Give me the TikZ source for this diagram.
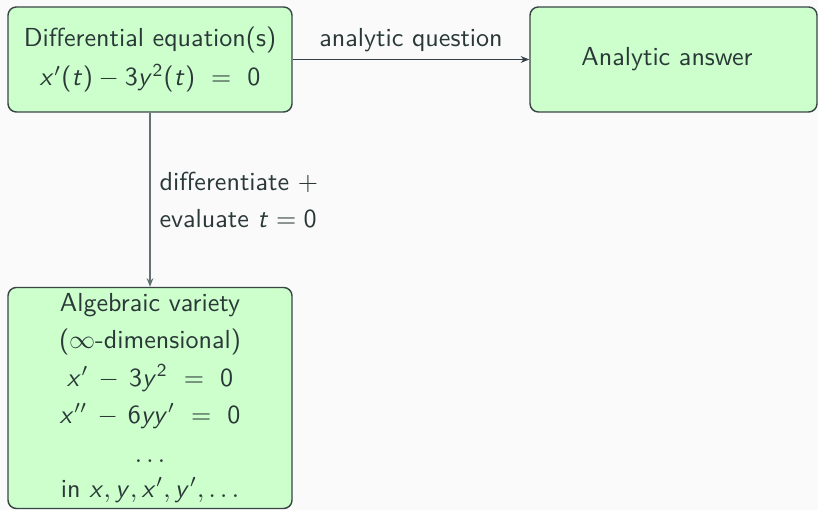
\documentclass[tikz,border=0pt]{standalone}
\usetikzlibrary{arrows.meta}
\DeclareSymbolFont{sfletters}{OT1}{cmss}{m}{sl}
\DeclareSymbolFont{sfupright}{OT1}{cmss}{m}{n}
\DeclareMathSymbol{x}{\mathalpha}{sfletters}{`x}
\DeclareMathSymbol{y}{\mathalpha}{sfletters}{`y}
\DeclareMathSymbol{t}{\mathalpha}{sfletters}{`t}
\DeclareMathSymbol{0}{\mathalpha}{sfupright}{`0}
\DeclareMathSymbol{2}{\mathalpha}{sfupright}{`2}
\DeclareMathSymbol{3}{\mathalpha}{sfupright}{`3}
\DeclareMathSymbol{6}{\mathalpha}{sfupright}{`6}
\DeclareMathSymbol{(}{\mathopen}{sfupright}{`(}
\DeclareMathSymbol{)}{\mathclose}{sfupright}{`)}
\definecolor{bgc}{HTML}{FAFAFA}
\definecolor{boxfill}{HTML}{CCFFCC}
\definecolor{boxline}{HTML}{3A4545}
\definecolor{textc}{HTML}{2A3838}
\definecolor{harrow}{HTML}{34404A}
\definecolor{varrow}{HTML}{627272}
\newcommand\px{0.3837pt}
\begin{document}
\begin{tikzpicture}[x=0.3837pt,y=-0.3837pt,
  font=\sffamily\fontsize{10}{14.2}\selectfont, text=textc,
  box/.style={draw=boxline, fill=boxfill, rounded corners=3.2pt, line width=0.55pt,
    minimum width=284*\px, align=center, inner sep=0pt},
  arr/.style={-{Stealth[length=3.3pt,width=2.6pt]}, line width=0.45pt},
  lbl/.style={align=left, inner sep=0pt}]
\fill[bgc] (0,0) rectangle (818,510);
\useasboundingbox (0,0) rectangle (818,510);
\node[box, minimum height=105*\px, font=\sffamily\fontsize{10}{14.95}\selectfont] (de) at (150,59.5)
  {Differential equation(s)\\ $x'(t) - 3y^2(t) \ =\ 0$};
\node[box, minimum width=287*\px, minimum height=105*\px] (aa) at (673.5,59.5) {Analytic answer\hspace*{5pt}};
\node[box, minimum height=221*\px, font=\sffamily\fontsize{10}{14.2}\selectfont] (av) at (150,398)
  {Algebraic variety\\ ($\infty$-dimensional)\\ $x' \,-\, 3y^2 \ =\ 0$\\ $x'' \,-\, 6yy' \ =\ 0$\\[1pt] $\ldots$\\[-1pt] in $x, y, x', y', \ldots$};
\draw[arr, draw=harrow] (de) -- node[above=2.8pt, inner sep=0pt, text=textc] (q) {analytic question} (aa);
\draw[arr, draw=varrow] (de) -- node[right=9*\px, lbl] (d) {differentiate $+$\\ evaluate $t = 0$} (av);
\end{tikzpicture}
\end{document}
